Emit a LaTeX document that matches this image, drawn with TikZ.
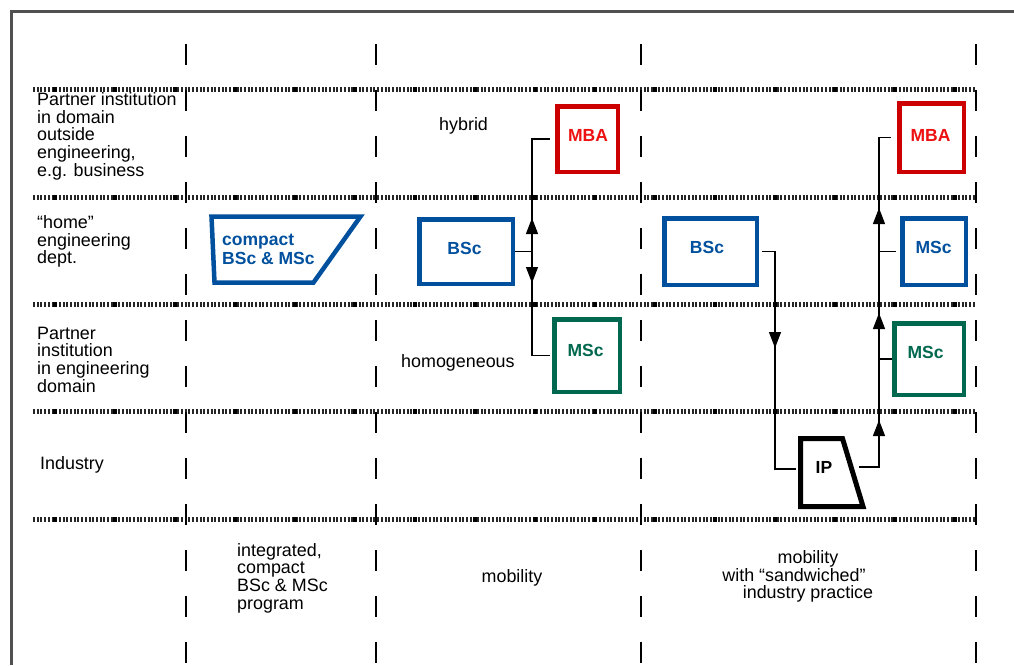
\documentclass[tikz,border=0pt]{standalone}
\usepackage{fontspec}
\setmainfont{Liberation Sans}
\usetikzlibrary{arrows.meta,decorations.markings}
\definecolor{tublue}{RGB}{0,80,158}
\definecolor{tured}{RGB}{204,0,0}
\definecolor{turedtext}{RGB}{238,17,17}
\definecolor{tugreen}{RGB}{0,104,78}
\definecolor{framegray}{RGB}{80,80,80}
\newcommand\arrtip{\arrow{Triangle[length=16pt,width=12pt]}}
\begin{document}
\begin{tikzpicture}[x=1pt,y=-1pt,
  font=\fontsize{17.9}{17.7}\selectfont,
  hline/.style={line width=5pt, black!85, dash pattern=on 2pt off 1.7pt},
  hblock/.style={line width=5pt, black, dash pattern=on 4pt off 56pt, dash phase=40pt},
  vline/.style={line width=1.5pt, black, dash pattern=on 21pt off 25pt},
  box/.style={draw=#1, line width=4.5pt, fill=white, inner sep=0pt},
  lbl/.style={font=\fontsize{17.5}{17.7}\selectfont\bfseries, inner sep=0pt},
  txt/.style={inner sep=0pt, align=left, anchor=base west},
  conn/.style={line width=1.2pt, black},
  deco/.style={postaction={decorate}},
]
\useasboundingbox (0,0) rectangle (1014,665);

% frame
\draw[framegray, line width=3.5pt] (11.5,665) -- (11.5,11.5) -- (1014,11.5);

% horizontal swimlane separators
\foreach \yy in {89,197,304,411,519} {
  \draw[hline] (33,\yy) -- (975,\yy);
  \draw[hblock] (33,\yy) -- (975,\yy);
}
% vertical column separators
\foreach \xx in {186,376,641,976} {
  \draw[vline] (\xx,44) -- (\xx,665);
}

% row labels (anchor = baseline of the last line)
\node[txt] (l1) at (37,176.1) {Partner institution\\in domain\\outside\\engineering,\\e.g. business};
\node[txt] (l2) at (37,263.9) {“home”\\engineering\\dept.};
\node[txt] (l3) at (37,392.1) {Partner\\institution\\in engineering\\domain};
\node[txt] (l4) at (40,469) {Industry};

% column 1: compact
\draw[tublue, line width=4.5pt, line join=miter] (211.5,216.5) -- (360.5,216.5) -- (313.5,282.5) -- (214.5,282.5) -- cycle;
\node[txt, font=\fontsize{17.5}{19}\selectfont\bfseries, text=tublue] (cp) at (222,264) {compact\\BSc \& MSc};

% column 2: mobility
\node[box=tublue, minimum width=93.5pt, minimum height=64.5pt] (bscA) at (466,251.5) {};
\node[lbl, text=tublue] (bscAt) at (464.5,248) {BSc};
\node[box=tured, minimum width=60.5pt, minimum height=65.5pt] (mbaA) at (587.5,139) {};
\node[lbl, text=turedtext] (mbaAt) at (588,135) {MBA};
\node[box=tugreen, minimum width=65.5pt, minimum height=72.5pt] (mscA) at (587,355.5) {};
\node[lbl, text=tugreen] (mscAt) at (585.5,350) {MSc};
\node[txt] (hy) at (439,130.7) {hybrid};
\node[txt] (ho) at (401,367) {homogeneous};

\coordinate (jA) at (532,250);
\draw[conn, deco, decoration={markings, mark=at position 50.5pt with {\arrtip}}]
  (bscA.east) -- (bscA.east -| jA) |- ([xshift=-5pt]mbaA.west);
\draw[conn, deco, decoration={markings, mark=at position 48.5pt with {\arrtip}}]
  (bscA.east) -- (bscA.east -| jA) |- ([xshift=-2pt]mscA.west);

% column 3: mobility with industry practice
\node[box=tublue, minimum width=92.5pt, minimum height=66.5pt] (bscB) at (710.5,251.5) {};
\node[lbl, text=tublue] (bscBt) at (707,247) {BSc};
\node[box=tured, minimum width=64.5pt, minimum height=68.5pt] (mbaB) at (931.5,137.5) {};
\node[lbl, text=turedtext] (mbaBt) at (930.5,135) {MBA};
\node[box=tublue, minimum width=63.5pt, minimum height=66.5pt] (mscB) at (934,251.5) {};
\node[lbl, text=tublue] (mscBt) at (933.5,247.5) {MSc};
\node[box=tugreen, minimum width=69.5pt, minimum height=71.5pt] (mscC) at (929,359) {};
\node[lbl, text=tugreen] (mscCt) at (925.5,352.5) {MSc};

\draw[black, line width=5pt, line join=miter] (800.5,438.5) -- (842.5,438.5) -- (863,506.5) -- (800.5,506.5) -- cycle;
\node[lbl] (ip) at (824,467.5) {IP};
\coordinate (ipW) at (796,469);
\coordinate (ipE) at (859,467);
\coordinate (jB) at (775,250);
\coordinate (jC) at (879,250);

\draw[conn, deco, decoration={markings, mark=at position 109.5pt with {\arrtip}}]
  ([xshift=3pt]bscB.east) -- (bscB.east -| jB) |- (ipW);
\draw[conn, deco, decoration={markings,
    mark=at position 67pt with {\arrtip},
    mark=at position 174pt with {\arrtip},
    mark=at position 279pt with {\arrtip}}]
  (ipE) -- (ipE -| jC) |- ([xshift=-6pt]mbaB.west);
\draw[conn] (mscB.west -| jC) -- ([xshift=-4pt]mscB.west);
\draw[conn] (mscC.west -| jC) -- (mscC.west);

% column captions
\node[txt] (b1) at (237,609.1) {integrated,\\compact\\BSc \& MSc\\program};
\node[txt, anchor=base] (b2) at (512,582) {mobility};
\node[txt, align=center, anchor=base] (b3) at (808,598.7) {mobility\\with “sandwiched”\makebox[28pt]{}\\industry practice};
\end{tikzpicture}
\end{document}
